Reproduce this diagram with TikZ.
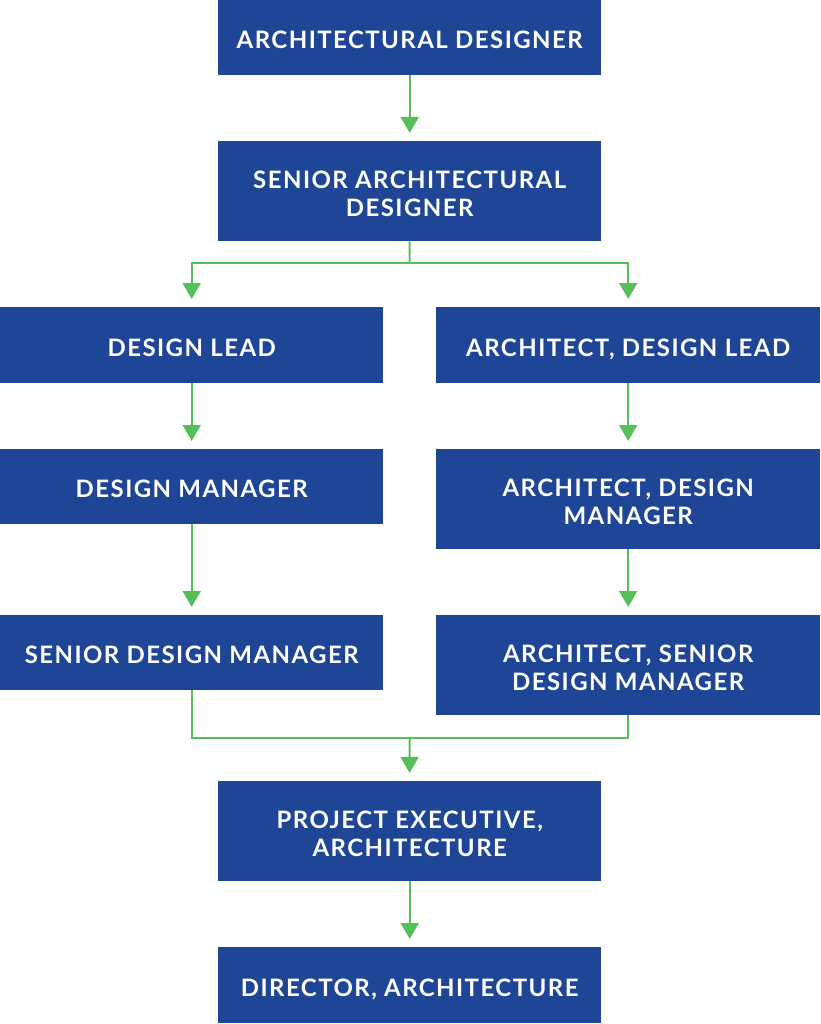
\documentclass[tikz,border=0pt]{standalone}
\usepackage{fontspec}
\setmainfont{Lato}[LetterSpace=6]
\usetikzlibrary{arrows.meta}
\definecolor{boxblue}{HTML}{1F4597}
\definecolor{arrgreen}{HTML}{57BF5A}
\tikzset{
  x=1pt,y=-1pt,
  rolebox/.style={fill=boxblue, draw=none, text=white, font=\fontsize{24}{28}\selectfont\bfseries, align=center, inner sep=0pt, anchor=north west, text depth=0pt, text height=22.5pt},
  tworow/.style={text height=51pt},
  conn/.style={draw=arrgreen, line width=2pt},
  arr/.style={conn, -{Triangle[width=18pt,length=16pt]}, shorten >=8pt},
}
\begin{document}
\begin{tikzpicture}
\useasboundingbox (0,0) rectangle (820,1024);
\node[rolebox, minimum width=383pt, minimum height=75pt] (b1) at (218,0) {ARCHITECTURAL DESIGNER};
\node[rolebox, tworow, minimum width=383pt, minimum height=100pt] (b2) at (218,141) {SENIOR ARCHITECTURAL\\DESIGNER};
\node[rolebox, minimum width=383pt, minimum height=76pt] (l1) at (0,307) {DESIGN LEAD};
\node[rolebox, minimum width=384pt, minimum height=76pt] (r1) at (436,307) {ARCHITECT, DESIGN LEAD};
\node[rolebox, minimum width=383pt, minimum height=75pt] (l2) at (0,449) {DESIGN MANAGER};
\node[rolebox, tworow, minimum width=384pt, minimum height=100pt] (r2) at (436,449) {ARCHITECT, DESIGN\\MANAGER};
\node[rolebox, minimum width=383pt, minimum height=75pt] (l3) at (0,615) {SENIOR DESIGN MANAGER};
\node[rolebox, tworow, minimum width=384pt, minimum height=100pt] (r3) at (436,615) {ARCHITECT, SENIOR\\DESIGN MANAGER};
\node[rolebox, tworow, minimum width=383pt, minimum height=100pt] (b6) at (218,781) {PROJECT EXECUTIVE,\\ARCHITECTURE};
\node[rolebox, minimum width=383pt, minimum height=76pt] (b7) at (218,947) {DIRECTOR, ARCHITECTURE};
\coordinate (split) at (409.5,263);
\coordinate (merge) at (409.5,738);
\draw[arr] (b1.south) -- (b2.north);
\draw[conn] (b2.south) -- (split);
\draw[arr] (split) -| (l1.north);
\draw[arr] (split) -| (r1.north);
\draw[arr] (l1.south) -- (l2.north);
\draw[arr] (r1.south) -- (r2.north);
\draw[arr] (l2.south) -- (l3.north);
\draw[arr] (r2.south) -- (r3.north);
\draw[conn] (l3.south) |- (merge);
\draw[conn] (r3.south) |- (merge);
\draw[arr] (merge) -- (b6.north);
\draw[arr] (b6.south) -- (b7.north);
\end{tikzpicture}
\end{document}
